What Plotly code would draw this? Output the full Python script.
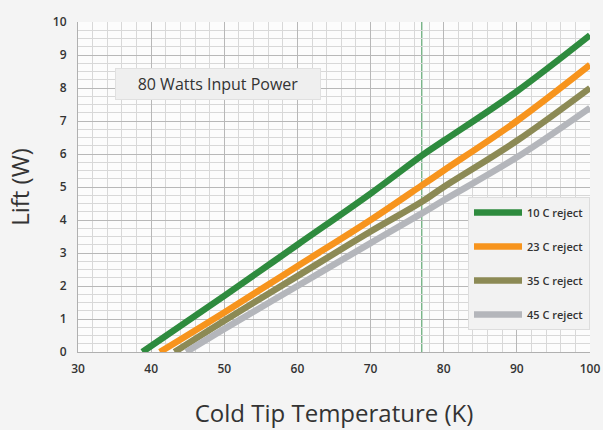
import plotly.graph_objects as go

series_names = ["10 C reject", "23 C reject", "35 C reject", "45 C reject"]
colors = ["#2e8b3e", "#f7941d", "#8c8a55", "#b4b6bb"]

x10 = [38.8, 50, 60, 70, 77, 80, 90, 100]
y10 = [0.0, 1.7, 3.25, 4.8, 5.95, 6.4, 7.9, 9.6]
x23 = [41.2, 50, 60, 70, 77, 80, 90, 100]
y23 = [0.0, 1.2, 2.6, 4.0, 5.05, 5.5, 7.0, 8.7]
x35 = [43.2, 50, 60, 70, 77, 80, 90, 100]
y35 = [0.0, 0.95, 2.3, 3.65, 4.55, 5.0, 6.4, 8.0]
x45 = [44.8, 50, 60, 70, 77, 80, 90, 100]
y45 = [0.0, 0.7, 2.0, 3.3, 4.2, 4.6, 5.9, 7.4]

xs = [x10, x23, x35, x45]
ys = [y10, y23, y35, y45]

marker_temp = 77

fig = go.Figure()
for i, (name, c, x, y) in enumerate(zip(series_names, colors, xs, ys)):
    fig.add_trace(go.Scatter(x=x, y=y, mode="lines", name=name, legendgroup=f"g{i}",
                             line=dict(color=c, width=6.5), line_shape="spline"))

fig.add_shape(type="line", x0=marker_temp, x1=marker_temp, y0=0, y1=10,
              xref="x", yref="y", line=dict(color="#5fa672", width=1.2), layer="below")

fig.add_annotation(x=0.072, y=0.812, xref="paper", yref="paper", text="80 Watts Input Power",
                   showarrow=False, xanchor="left", yanchor="middle", align="center",
                   width=196, height=22,
                   font=dict(family="Open Sans", size=16, color="#333333"),
                   bgcolor="#efefef", bordercolor="#e0e0e0", borderwidth=1, borderpad=4)

tickfont = dict(family="Open Sans", size=12, color="#333333", weight=600)

fig.update_layout(
    width=603, height=430,
    margin=dict(l=78, r=13, t=22, b=78, autoexpand=False),
    paper_bgcolor="#f4f4f4",
    plot_bgcolor="#fcfcfc",
    font=dict(family="Open Sans", color="#333333"),
    showlegend=True,
    legend=dict(x=1.0, y=0.47, xanchor="right", yanchor="top",
                bgcolor="#f2f2f2", bordercolor="#dddddd", borderwidth=1,
                font=dict(family="Open Sans", size=11, color="#333333", weight=600),
                tracegroupgap=15, itemwidth=48, entrywidth=82),
    xaxis=dict(range=[30, 100], dtick=10, tick0=30, showgrid=True, gridcolor="#b8b8b8", gridwidth=1,
               minor=dict(dtick=2, showgrid=True, gridcolor="#d8d8d8"),
               zeroline=False, showline=True, linecolor="#b0b0b0",
               tickfont=tickfont,
               ticklabelstandoff=6, automargin=False,
               title=dict(text="Cold Tip Temperature (K)", font=dict(family="Open Sans", size=24, color="#333333"), standoff=28),
               ticks="", fixedrange=True),
    yaxis=dict(range=[0, 10], dtick=1, showgrid=True, gridcolor="#b8b8b8", gridwidth=1,
               minor=dict(dtick=0.25, showgrid=True, gridcolor="#d8d8d8"),
               zeroline=False, showline=True, linecolor="#b0b0b0",
               tickfont=tickfont,
               ticklabelstandoff=8, automargin=False,
               title=dict(text="Lift (W)", font=dict(family="Open Sans", size=24, color="#333333"), standoff=16),
               ticks="", fixedrange=True),
)

fig.write_html("out.html")
